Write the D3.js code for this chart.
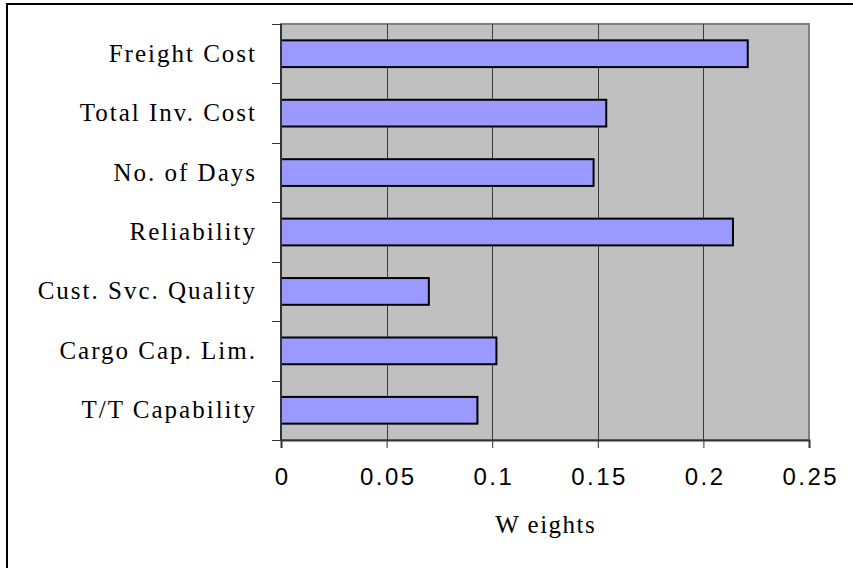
<!DOCTYPE html>
<html>
<head>
<meta charset="utf-8">
<script src="https://cdn.jsdelivr.net/npm/d3@7/dist/d3.min.js"></script>
<style>
  html, body { margin: 0; padding: 0; background: #fff; }
  svg { display: block; }
</style>
</head>
<body>
<svg id="chart" width="853" height="568"></svg>
<script>
// Criteria, top to bottom, and their weights
const categories = [
  "Freight Cost",
  "Total Inv. Cost",
  "No. of Days",
  "Reliability",
  "Cust. Svc. Quality",
  "Cargo Cap. Lim.",
  "T/T Capability"
];
const weights = [0.221, 0.154, 0.148, 0.214, 0.070, 0.102, 0.093];
const xTicks = [0, 0.05, 0.1, 0.15, 0.2, 0.25];
const xTickLabels = ["0", "0.05", "0.1", "0.15", "0.2", "0.25"];
const xTitle = "W eights";

const svg = d3.select("#chart");
const plot = { left: 281, top: 24, right: 809, bottom: 440 };

// outer chart frame (runs off the right and bottom edges)
svg.append("rect")
  .attr("x", 7).attr("y", 4)
  .attr("width", 900).attr("height", 600)
  .attr("fill", "none").attr("stroke", "#000").attr("stroke-width", 2);

const x = d3.scaleLinear().domain([0, 0.25]).range([plot.left, plot.right]);
const y = d3.scaleBand().domain(categories).range([plot.top, plot.bottom]).paddingInner(0.55).paddingOuter(0.275);
const yBand = d3.scaleBand().domain(categories).range([plot.top, plot.bottom]);

// plot background
svg.append("rect")
  .attr("x", plot.left).attr("y", plot.top)
  .attr("width", plot.right - plot.left).attr("height", plot.bottom - plot.top)
  .attr("fill", "#c0c0c0").attr("stroke", "#808080").attr("stroke-width", 2);

// vertical gridlines
svg.append("g").selectAll("line")
  .data(xTicks.slice(1, -1))
  .join("line")
  .attr("x1", d => Math.round(x(d)) + 0.5).attr("x2", d => Math.round(x(d)) + 0.5)
  .attr("y1", plot.top).attr("y2", plot.bottom)
  .attr("stroke", "#3a3a3a").attr("stroke-width", 1);

// bars
svg.append("g").selectAll("rect")
  .data(categories)
  .join("rect")
  .attr("x", x(0))
  .attr("y", d => y(d))
  .attr("width", (d, i) => x(weights[i]) - x(0))
  .attr("height", y.bandwidth())
  .attr("fill", "#9999ff")
  .attr("stroke", "#000").attr("stroke-width", 2);

// x axis
const xAxis = d3.axisBottom(x)
  .tickValues(xTicks)
  .tickFormat((d, i) => xTickLabels[i])
  .tickSize(8)
  .tickPadding(0);
const gx = svg.append("g").attr("transform", `translate(0,${plot.bottom})`).call(xAxis);
gx.select(".domain").attr("stroke", "#333").attr("stroke-width", 2);
gx.selectAll(".tick line").attr("stroke", "#333");
gx.selectAll(".tick text")
  .attr("y", 45).attr("dy", 0)
  .attr("fill", "#000")
  .style("font-family", "'Liberation Sans', Arial, sans-serif")
  .style("font-size", "24px")
  .style("letter-spacing", "2.5px")
  .attr("dx", "1.25px");

// y axis: tick marks at band boundaries
const gy = svg.append("g");
gy.append("line")
  .attr("x1", plot.left).attr("x2", plot.left)
  .attr("y1", plot.top).attr("y2", plot.bottom)
  .attr("stroke", "#333").attr("stroke-width", 2);
gy.selectAll("line.tick")
  .data(categories.map(c => yBand(c)).concat([plot.bottom]))
  .join("line")
  .attr("class", "tick")
  .attr("x1", plot.left - 9).attr("x2", plot.left)
  .attr("y1", d => Math.round(d) + 0.5).attr("y2", d => Math.round(d) + 0.5)
  .attr("stroke", "#333").attr("stroke-width", 1);

// category labels
gy.selectAll("text")
  .data(categories)
  .join("text")
  .attr("x", 257)
  .attr("y", d => yBand(d) + yBand.bandwidth() / 2 + 8)
  .attr("text-anchor", "end")
  .attr("fill", "#000")
  .style("font-family", "'Liberation Serif', 'Times New Roman', serif")
  .style("font-size", "25px")
  .style("letter-spacing", "2px")
  .text(d => d);

// axis title
svg.append("text")
  .attr("x", (plot.left + plot.right) / 2 + 0.75)
  .attr("y", 533)
  .attr("text-anchor", "middle")
  .attr("fill", "#000")
  .style("font-family", "'Liberation Serif', 'Times New Roman', serif")
  .style("font-size", "25px")
  .style("letter-spacing", "1.5px")
  .text(xTitle);
</script>
</body>
</html>
